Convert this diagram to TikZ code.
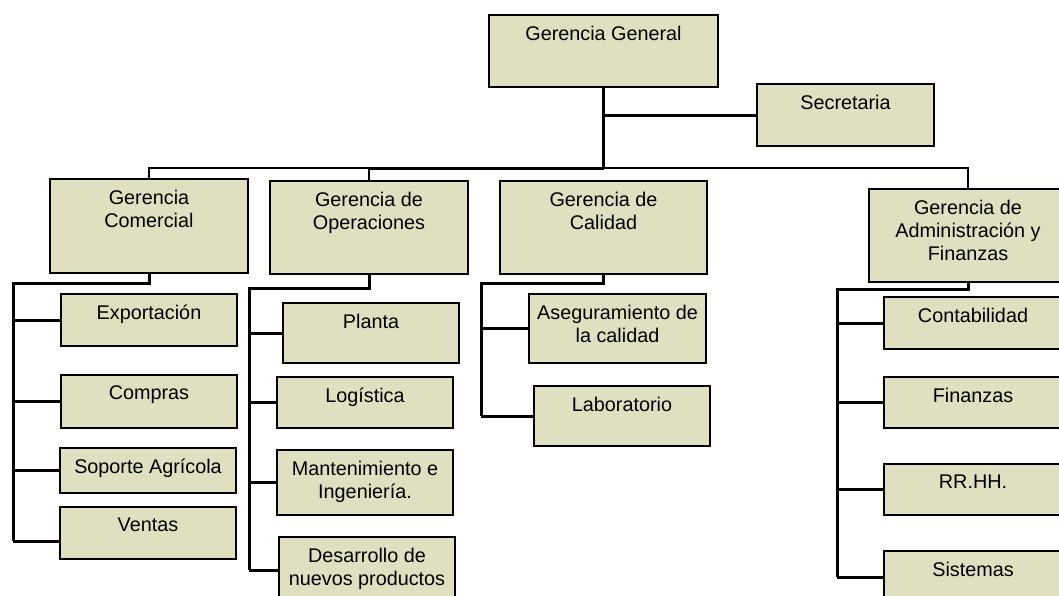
\documentclass[tikz,border=0pt]{standalone}
\usepackage{fontspec}
\setmainfont{Liberation Sans}
\usepackage{tikz}
\definecolor{boxfill}{RGB}{224,224,192}

\begin{document}
\begin{tikzpicture}[x=1pt, y=-1pt,
		unit/.style={draw, line width=2.2pt, fill=boxfill, inner sep=0pt},
		sub/.style={unit, minimum width=176},
		lab/.style={anchor=north, align=center, inner sep=0pt, yshift=-12pt, font=\fontsize{19.8}{23}\selectfont},
		conn/.style={line width=3pt},
		bus/.style={line width=1.5pt}]
			\path[use as bounding box, fill=white] (0,0) rectangle (1059,595);
			% Direccion
			\node[unit, minimum width=229, minimum height=72, label={[lab]north:Gerencia General}] (gg) at (603.5,51) {};
			\node[unit, minimum width=177, minimum height=62, label={[lab]north:Secretaria}] (sec) at (845.5,115) {};
			% Gerencias
			\node[unit, minimum width=198, minimum height=94, label={[lab]north:{Gerencia\\Comercial}}] (com) at (149,226) {};
			\node[unit, minimum width=198, minimum height=93, label={[lab]north:{Gerencia de\\Operaciones}}] (ope) at (369,227.5) {};
			\node[unit, minimum width=207, minimum height=93, label={[lab]north:{Gerencia de\\Calidad}}] (cal) at (603.5,227.5) {};
			\node[unit, minimum width=198, minimum height=93, label={[lab]north:{Gerencia de\\Administración y\\Finanzas}}] (adm) at (968,235.5) {};
			% Comercial
			\node[sub, minimum height=52, label={[lab]north:Exportación}] (exp) at (149,320) {};
			\node[sub, minimum height=53, label={[lab]north:Compras}] (comp) at (149,401.5) {};
			\node[sub, minimum height=45, label={[lab]north:Soporte Agrícola}] (sop) at (148,470.5) {};
			\node[sub, minimum height=52, label={[lab]north:Ventas}] (ven) at (148,533) {};
			% Operaciones
			\node[sub, minimum height=60, label={[lab]north:Planta}] (pla) at (371,333) {};
			\node[sub, minimum height=51, label={[lab]north:Logística}] (log) at (365,402.5) {};
			\node[sub, minimum height=65, label={[lab]north:{Mantenimiento e\\Ingeniería.}}] (man) at (365,482.5) {};
			\node[sub, minimum height=66, label={[lab]north:{Desarrollo de\\nuevos productos}}] (des) at (367,570) {};
			% Calidad
			\node[sub, minimum width=177, minimum height=69, label={[lab]north:{Aseguramiento de\\la calidad}}] (ase) at (617.5,328.5) {};
			\node[sub, minimum height=60, label={[lab]north:Laboratorio}] (labo) at (622,416) {};
			% Administracion
			\node[sub, minimum width=178, minimum height=52, label={[lab]north:Contabilidad}] (cont) at (973,323) {};
			\node[sub, minimum width=178, minimum height=51, label={[lab]north:Finanzas}] (fin) at (973,402.5) {};
			\node[sub, minimum width=178, minimum height=51, label={[lab]north:RR.HH.}] (rrhh) at (973,489.5) {};
			\node[sub, minimum width=178, minimum height=52, label={[lab]north:Sistemas}] (sis) at (973,577) {};
			% Lineas
			\coordinate (hub) at (603.5,168);
			\coordinate (c1) at (13,283);
			\coordinate (c2) at (13,541);
			\coordinate (o1) at (249,288);
			\coordinate (q1) at (481,283);
			\coordinate (a1) at (837,289);
			\draw[conn] (gg.south) -- (hub);
			\draw[conn] (gg.south |- sec.west) -- (sec.west);
			\draw[bus] (com.north) |- (hub) -| (adm.north);
			\draw[bus] (ope.north) |- (hub);
			\draw[conn] (ope.north |- hub) -- (hub);
			\draw[conn] (com.south) |- (c1) -- (c2);
			\foreach \n in {exp,comp,sop} {
				\draw[conn] (\n.west) -- (\n.west -| c1);
			}
			\draw[conn] (c2) -- ([yshift=-8pt]ven.west);
			\draw[conn] (ope.south) |- (o1) -- (o1 |- des.west);
			\foreach \n in {pla,log,man,des} {
				\draw[conn] (\n.west) -- (\n.west -| o1);
			}
			\draw[conn] (cal.south) |- (q1) -- (q1 |- labo.west);
			\foreach \n in {ase,labo} {
				\draw[conn] (\n.west) -- (\n.west -| q1);
			}
			\draw[conn] (adm.south) |- (a1) -- (a1 |- sis.west);
			\foreach \n in {cont,fin,rrhh,sis} {
				\draw[conn] (\n.west) -- (\n.west -| a1);
			}
		\end{tikzpicture}
\end{document}
